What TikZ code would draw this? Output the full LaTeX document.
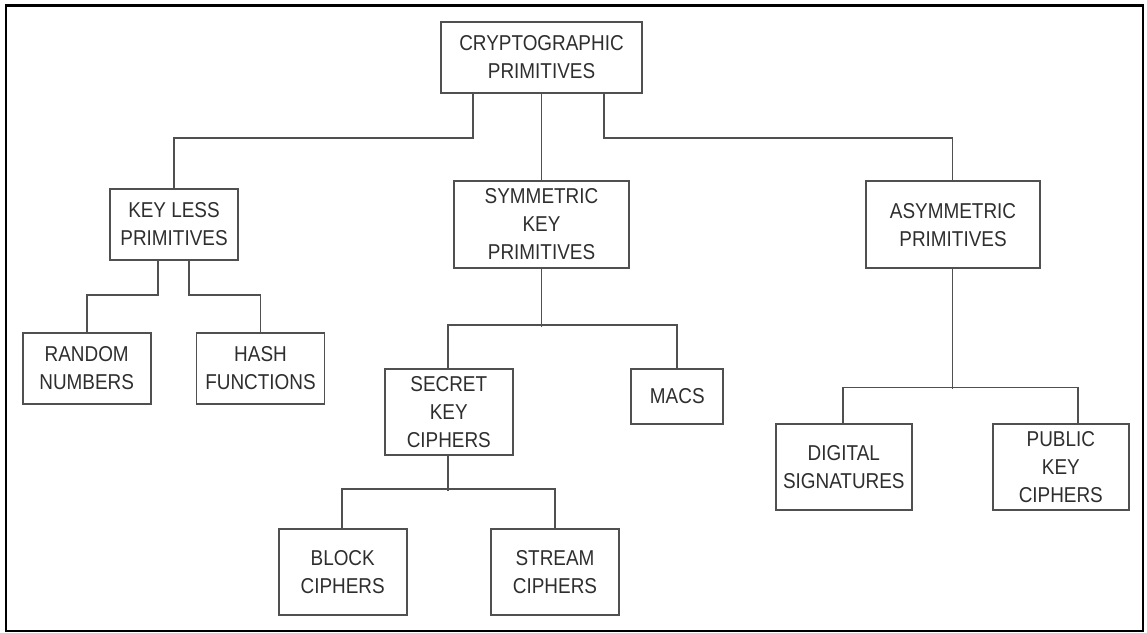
\documentclass[tikz,border=0pt]{standalone}
\usepackage{fontspec}
\setmainfont{Liberation Sans}[FakeStretch=0.88]
\definecolor{linegray}{HTML}{505050}
\definecolor{textgray}{HTML}{2E2E2E}
\begin{document}
\begin{tikzpicture}[x=1pt,y=-1pt,
  box/.style={draw=linegray, line width=1.8pt, inner sep=0pt, align=center,
    text=textgray, font=\fontsize{21.5}{28}\selectfont},
  conn/.style={draw=linegray, line width=1.8pt}]
\useasboundingbox (0,0) rectangle (1147,632);
\fill[white] (0,0) rectangle (1147,632);
\draw[line width=2.4pt] (6.2,5.3) rectangle (1143.2,631);

\node[box, minimum width=201pt, minimum height=71pt] (crypto) at (541.5,57.5) {CRYPTOGRAPHIC\\PRIMITIVES};
\node[box, minimum width=128pt, minimum height=71pt] (keyless) at (174,224.5) {KEY LESS\\PRIMITIVES};
\node[box, minimum width=175pt, minimum height=87pt] (sym) at (541.5,224.5) {SYMMETRIC\\KEY\\PRIMITIVES};
\node[box, minimum width=174pt, minimum height=87pt] (asym) at (953,224.75) {ASYMMETRIC\\PRIMITIVES};
\node[box, minimum width=128pt, minimum height=71pt] (random) at (86.7,368.5) {RANDOM\\NUMBERS};
\node[box, minimum width=128pt, minimum height=71pt] (hash) at (260.5,368.5) {HASH\\FUNCTIONS};
\node[box, minimum width=128pt, minimum height=86pt] (secret) at (448.8,412) {SECRET\\KEY\\CIPHERS};
\node[box, minimum width=92pt, minimum height=55pt] (macs) at (677.3,396.5) {MACS};
\node[box, minimum width=128pt, minimum height=86pt] (block) at (342.7,572) {BLOCK\\CIPHERS};
\node[box, minimum width=128pt, minimum height=86pt] (stream) at (555,572) {STREAM\\CIPHERS};
\node[box, minimum width=136pt, minimum height=86pt] (digital) at (843.8,467) {DIGITAL\\SIGNATURES};
\node[box, minimum width=136pt, minimum height=86pt] (public) at (1060.8,467) {PUBLIC\\KEY\\CIPHERS};

% top level
\draw[conn] ([xshift=-68.5pt]crypto.south) -- ++(0,43.7) -| (keyless.north);
\draw[conn] (crypto.south) -- (sym.north);
\draw[conn] ([xshift=62.5pt]crypto.south) -- ++(0,43.7) -| ([xshift=-0.5pt]asym.north);
% key less
\draw[conn] ([xshift=-15.7pt]keyless.south) -- ++(0,34.3) -| (random.north);
\draw[conn] ([xshift=15pt]keyless.south) -- ++(0,34.3) -| (hash.north);
% symmetric
\draw[conn] (sym.south) -- ++(0,58);
\draw[conn] ([xshift=-0.5pt]secret.north) -- ++(0,-43) -| (macs.north);
% secret key
\draw[conn] ([xshift=-0.5pt]secret.south) -- ++(0,35);
\draw[conn] ([xshift=-0.4pt]block.north) -- ++(0,-39) -| (stream.north);
% asymmetric
\draw[conn] ([xshift=-0.5pt]asym.south) -- ++(0,120);
\draw[conn] ([xshift=-0.5pt]digital.north) -- ++(0,-35.7) -| ([xshift=17.5pt]public.north);
\end{tikzpicture}
\end{document}
